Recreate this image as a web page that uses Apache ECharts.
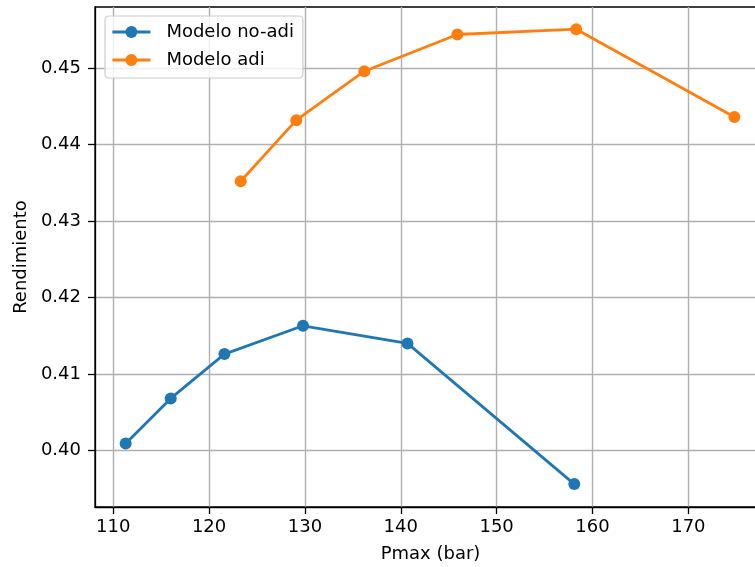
<!DOCTYPE html>
<html>
<head>
<meta charset="utf-8">
<script src="https://cdn.jsdelivr.net/npm/echarts@6/dist/echarts.min.js"></script>
<style>
  html, body { margin: 0; padding: 0; background: #fff; }
  #chart { width: 755px; height: 567px; }
</style>
</head>
<body>
<div id="chart"></div>
<script>
// Pmax (bar) vs Rendimiento
const pmaxNoAdi = [111.3, 116.0, 121.6, 129.8, 140.7, 158.1];
const rendNoAdi = [0.4009, 0.4068, 0.4126, 0.4163, 0.4140, 0.3956];
const pmaxAdi = [123.3, 129.1, 136.2, 145.9, 158.3, 174.8];
const rendAdi = [0.4352, 0.4432, 0.4496, 0.4544, 0.4551, 0.4436];
const xTicks = [110, 120, 130, 140, 150, 160, 170];
const yTicks = [0.40, 0.41, 0.42, 0.43, 0.44, 0.45];

const font = 'DejaVu Sans';
const fs = 18;

function pairs(xs, ys) {
  return xs.map((x, i) => [x, ys[i]]);
}

const chart = echarts.init(document.getElementById('chart'));

const axisCommon = {
  axisLine: { show: true, onZero: false, lineStyle: { color: '#000', width: 1.3 } },
  axisTick: { show: true, inside: false, length: 7, lineStyle: { color: '#000', width: 1.3 } },
  splitLine: { show: true, lineStyle: { color: '#b0b0b0', width: 1.4 } },
  nameTextStyle: { fontFamily: font, fontSize: fs, color: '#000' },
  nameLocation: 'middle'
};

chart.setOption({
  animation: false,
  backgroundColor: '#fff',
  grid: {
    left: 95, top: 7, width: 671, height: 500,
    outerBoundsMode: 'none', containLabel: false,
    show: true, borderColor: '#000', borderWidth: 1.3, backgroundColor: 'transparent'
  },
  legend: {
    orient: 'vertical',
    left: 105, top: 16,
    padding: [7, 9, 9, 6],
    itemWidth: 38, itemHeight: 15, itemGap: 10,
    backgroundColor: 'rgba(255,255,255,0.8)',
    borderColor: '#cccccc', borderWidth: 1.2, borderRadius: 4,
    lineStyle: { width: 2.8 },
    textStyle: { fontFamily: font, fontSize: fs, color: '#000', padding: [0, 0, 0, 11] },
    data: ['Modelo no-adi', 'Modelo adi']
  },
  xAxis: Object.assign({}, axisCommon, {
    type: 'value',
    min: 108.1, max: 178.1, splitNumber: 7,
    name: 'Pmax (bar)', nameGap: 38,
    axisTick: Object.assign({}, axisCommon.axisTick, { customValues: xTicks }),
    axisLabel: {
      customValues: xTicks, margin: 11,
      fontFamily: font, fontSize: fs, color: '#000'
    }
  }),
  yAxis: Object.assign({}, axisCommon, {
    type: 'value',
    min: 0.3926, max: 0.4580, splitNumber: 7,
    name: 'Rendimiento', nameGap: 64, nameRotate: 90,
    axisTick: Object.assign({}, axisCommon.axisTick, { customValues: yTicks }),
    axisLabel: {
      customValues: yTicks, margin: 14,
      fontFamily: font, fontSize: fs, color: '#000',
      formatter: v => v.toFixed(2)
    }
  }),
  series: [
    {
      name: 'Modelo no-adi', type: 'line',
      data: pairs(pmaxNoAdi, rendNoAdi),
      symbol: 'circle', symbolSize: 12,
      itemStyle: { color: '#1f77b4' },
      lineStyle: { color: '#1f77b4', width: 2.8 }
    },
    {
      name: 'Modelo adi', type: 'line',
      data: pairs(pmaxAdi, rendAdi),
      symbol: 'circle', symbolSize: 12,
      itemStyle: { color: '#ff7f0e' },
      lineStyle: { color: '#ff7f0e', width: 2.8 }
    }
  ]
});
</script>
</body>
</html>
